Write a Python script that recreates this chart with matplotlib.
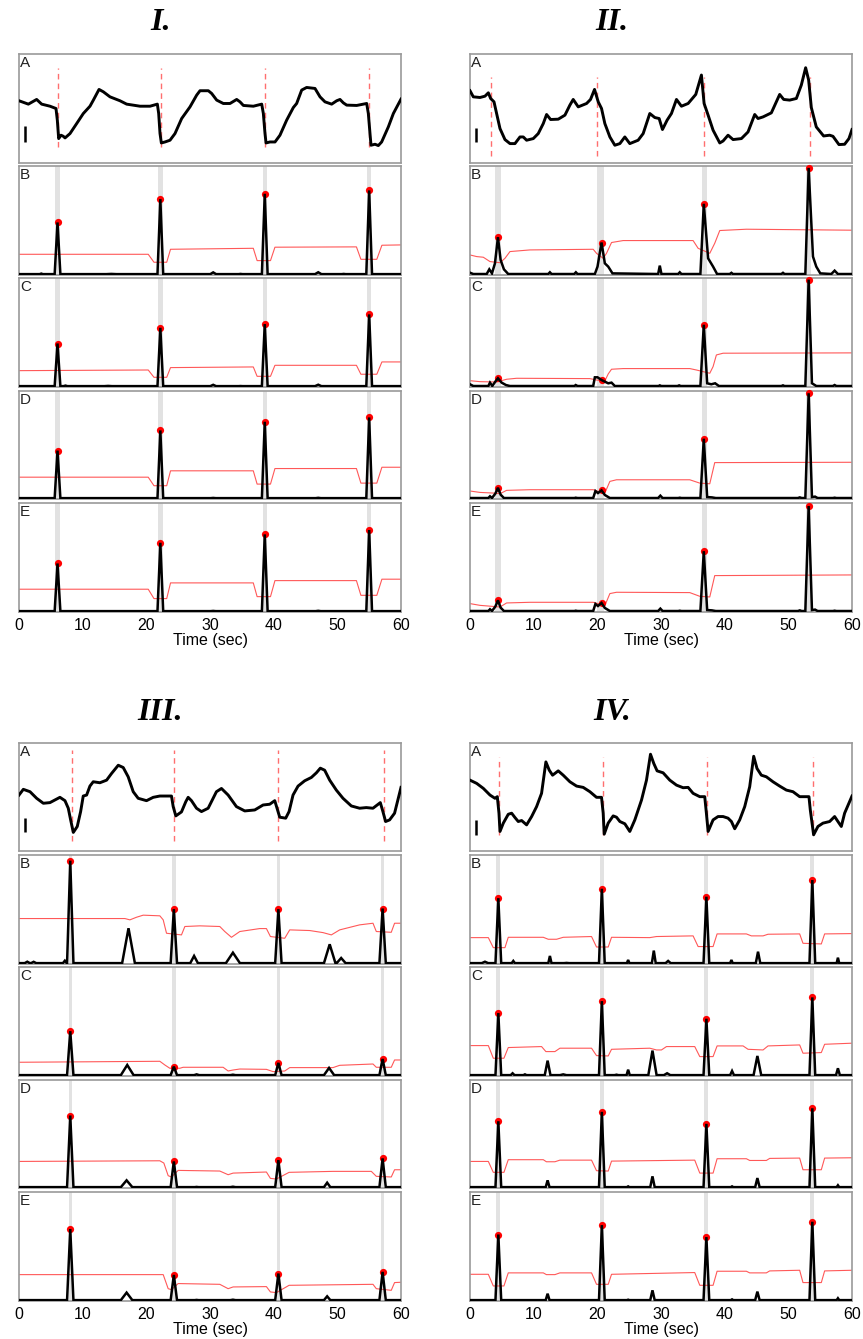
import matplotlib
matplotlib.use("Agg")
import matplotlib.pyplot as plt

plt.rcParams['font.family'] = ['Liberation Sans', 'DejaVu Sans']

# ---------------------------------------------------------------- data
# x values are seconds (0-60), y values are % of each strip's height
panel_titles = ["I.", "II.", "III.", "IV."]
row_letters = ["A", "B", "C", "D", "E"]
x_ticks = [0, 10, 20, 30, 40, 50, 60]
x_label = "Time (sec)"

# ---- panel I
p1_A = [(0,57.1),(1.47,54.0),(2.77,58.3),(3.56,54.0),(4.87,52.1),(5.81,50.0),(6.02,39.3),(6.23,22.4),
        (6.60,25.5),(6.96,24.5),(7.23,23.0),(8.01,27.0),(9.06,36.2),(10.10,45.4),(11.15,52.1),(11.68,57.7),
        (12.57,67.5),(13.25,65.3),(14.29,60.7),(15.86,57.1),(16.91,54.0),(19.01,52.1),(20.58,52.1),(21.73,54.0),
        (21.94,45.4),(22.15,27.0),(22.36,18.4),(22.93,19.3),(23.72,20.9),(24.50,27.0),(25.55,40.8),(26.86,51.5),
        (27.91,62.3),(28.43,66.3),(29.74,66.3),(30.26,63.8),(31.05,57.7),(32.09,54.6),(33.14,54.6),(34.19,58.3),
        (34.71,56.1),(35.24,52.8),(36.81,52.1),(38.12,54.0),(38.38,45.4),(38.64,27.0),(38.80,18.4),(39.42,19.3),
        (40.21,19.3),(40.99,25.5),(42.04,39.3),(43.09,50.9),(43.61,54.6),(44.40,66.9),(45.18,69.3),(46.49,68.4),
        (47.28,60.7),(48.06,56.1),(49.11,54.0),(49.90,57.1),(50.42,58.3),(50.94,55.2),(51.47,53.1),(53.04,52.8),
        (54.61,54.6),(54.87,45.4),(55.13,27.0),(55.29,16.3),(55.92,17.2),(56.44,16.0),(56.96,19.3),(58.01,33.1),
        (58.80,45.4),(59.58,54.0),(60.0,58.6)]
p1_marks = [6.18, 22.25, 38.7, 55.0]
p1_mark_span = (14.7, 86.8)
p1_bar = (0.94, 19.7, 33.6)
p1_peak_t = [6.05, 22.2, 38.6, 55.0]
p1_bands = [(5.7, 6.4), (21.85, 22.55), (38.25, 38.95), (54.65, 55.35)]
p1_B_peaks = [48.2, 69.6, 74.5, 77.6]
p1_C_peaks = [39.9, 54.3, 57.7, 66.6]
p1_D_peaks = [44.8, 63.5, 71.5, 75.5]
p1_E_peaks = [44.5, 63.5, 71.2, 75.2]
p1_B_bumps = [(3.5, 1.3, 0.25), (14.5, 1.0, 0.8), (30.5, 2.4, 0.45), (34.8, 1.0, 0.3), (47.0, 2.5, 0.5), (51.0, 1.0, 0.3)]
p1_C_bumps = [(7.3, 1.3, 0.3), (14.0, 1.0, 0.6), (30.5, 2.0, 0.45), (34.8, 0.9, 0.3), (47.0, 2.1, 0.5)]
p1_D_bumps = [(30.5, 1.0, 0.4), (47.0, 1.1, 0.4)]
p1_E_bumps = [(30.5, 1.0, 0.4), (47.0, 1.1, 0.4)]
p1_B_red = [(0,19.0),(20.3,19.0),(21.2,11.7),(23.2,11.7),(23.8,23.6),(36.8,24.5),(37.4,13.2),(39.5,13.2),
            (40.2,25.5),(53.0,25.8),(53.7,14.4),(56.2,14.4),(57.0,27.3),(60,27.6)]
p1_C_red = [(0,15.0),(20.3,15.6),(21.2,8.9),(23.2,8.9),(23.8,17.8),(36.8,18.4),(37.4,9.8),(39.5,9.8),
            (40.2,19.9),(53.0,19.9),(53.7,11.7),(56.2,11.7),(57.0,23.0),(60,23.0)]
p1_D_red = [(0,20.2),(20.3,20.2),(21.2,12.3),(23.2,12.3),(23.8,26.1),(36.8,26.1),(37.4,13.8),(39.5,13.8),
            (40.2,28.2),(53.0,28.2),(53.7,14.7),(56.2,14.7),(57.0,29.4),(60,29.4)]
p1_E_red = [(0,20.9),(20.3,20.9),(21.2,12.3),(23.2,12.3),(23.8,26.7),(36.8,26.7),(37.4,14.1),(39.5,14.1),
            (40.2,28.8),(53.0,28.8),(53.7,15.3),(56.2,15.3),(57.0,30.1),(60,30.1)]

# ---- panel II
p2_A = [(0,66.3),(0.52,60.7),(1.57,60.1),(2.35,61.3),(2.88,64.4),(3.24,59.2),(3.77,56.1),(4.18,45.4),(4.71,31.6),
        (5.49,21.5),(6.28,17.8),(7.06,17.8),(7.85,23.9),(8.37,23.9),(8.89,20.9),(9.94,22.4),(10.72,27.0),(11.51,36.2),
        (12.03,44.5),(12.66,39.9),(13.86,40.2),(14.91,43.9),(15.69,53.1),(16.21,58.3),(17.0,51.5),(18.31,54.6),
        (18.93,58.3),(19.56,67.5),(20.14,56.1),(20.66,50.0),(21.18,36.2),(21.97,23.9),(22.75,16.3),(23.54,17.8),
        (24.32,23.9),(25.10,17.8),(26.41,20.9),(27.20,27.0),(28.24,45.4),(29.03,41.7),(29.71,40.8),(30.23,30.7),
        (30.96,39.3),(31.64,45.4),(32.43,58.3),(33.21,52.1),(34.26,54.6),(35.46,62.9),(36.35,80.7),(36.77,54.6),
        (37.40,43.9),(38.18,30.1),(39.23,18.4),(39.75,20.2),(40.53,25.5),(41.32,21.5),(42.63,22.4),(43.67,28.5),
        (44.72,44.5),(45.24,40.8),(46.03,42.3),(47.33,46.0),(48.64,62.9),(49.27,58.3),(50.21,57.7),(51.26,59.2),
        (52.04,71.5),(52.72,87.4),(53.19,76.1),(53.61,50.9),(54.39,33.1),(55.54,24.8),(56.49,25.5),(57.01,24.5),
        (57.95,16.9),(58.84,17.2),(59.52,22.4),(60,30.7)]
p2_marks = [3.35, 19.87, 36.77, 53.35]
p2_mark_span = (6.1, 79.1)
p2_bar = (0.94, 19.3, 32.5)
p2_peak_t = [4.39, 20.66, 36.72, 53.19]
p2_bands = [(3.95, 4.85), (19.9, 21.1), (36.45, 37.3), (52.8, 53.6)]
p2_B_peaks = [34.7, 29.8, 65.3, 98.2]
p2_C_peaks = [8.0, 6.4, 57.1, 98.5]
p2_D_peaks = [10.4, 8.0, 55.8, 97.9]
p2_E_peaks = [10.7, 8.3, 55.8, 97.2]
p2_B_line = [(0,2.1),(0.52,0.9),(2.62,0.9),(3.03,5.2),(3.45,1.5),(3.92,10.7),(4.39,34.7),(4.81,13.8),(5.33,5.2),
             (6.01,0.9),(12.29,0.9),(12.55,2.5),(12.81,0.9),(16.37,0.9),(16.63,2.5),(16.89,0.9),(19.61,0.9),
             (20.03,7.7),(20.66,29.8),(21.18,10.7),(21.71,7.7),(22.38,1.5),(29.55,0.9),(29.81,8.6),(30.07,0.9),
             (32.69,0.9),(32.95,2.5),(33.21,0.9),(36.19,0.9),(36.72,65.3),(37.40,15.3),(38.18,7.7),(38.81,0.9),
             (40.8,0.9),(41.06,2.0),(41.3,0.9),(48.9,0.9),(49.16,2.0),(49.4,0.9),(52.67,0.9),(53.19,98.2),
             (53.87,16.9),(54.39,7.7),(55.02,1.5),(56.75,0.9),(57.27,4.0),(57.79,0.9),(60,0.9)]
p2_C_line = [(0,2.5),(0.52,0.9),(2.88,0.9),(3.14,4.0),(3.5,0.9),(3.97,4.9),(4.39,8.0),(4.97,4.0),(5.65,1.8),
             (6.28,0.9),(16.4,0.9),(16.6,1.8),(16.9,0.9),(19.35,0.9),(19.61,8.9),(20.03,8.9),(20.66,6.4),
             (21.18,4.9),(21.71,3.4),(22.23,4.0),(22.75,0.9),(29.6,0.9),(29.81,1.5),(30.05,0.9),(32.6,0.9),
             (32.85,1.5),(33.1,0.9),(36.19,0.9),(36.72,57.1),(37.25,3.4),(37.9,2.5),(38.5,3.4),(39.1,0.9),
             (48.9,0.9),(49.16,1.5),(49.4,0.9),(52.67,0.9),(53.19,98.5),(53.71,3.4),(54.4,0.9),(57.0,0.9),
             (57.27,1.8),(57.55,0.9),(60,0.9)]
p2_D_line = [(0,0.9),(2.88,0.9),(3.14,2.5),(3.45,0.9),(3.97,4.9),(4.39,10.4),(4.81,4.0),(5.33,0.9),(16.4,0.9),
             (16.6,1.2),(16.9,0.9),(19.35,0.9),(19.7,7.4),(20.1,5.5),(20.66,8.0),(21.18,3.7),(21.97,0.9),
             (29.55,0.9),(29.9,3.1),(30.25,0.9),(32.7,0.9),(32.95,1.2),(33.2,0.9),(36.19,0.9),(36.72,55.8),
             (37.25,1.8),(38.0,1.5),(38.6,0.9),(51.5,0.9),(51.8,1.5),(52.1,0.9),(52.67,0.9),(53.19,97.9),
             (53.71,1.8),(54.2,2.2),(54.6,0.9),(57.0,0.9),(57.27,1.2),(57.55,0.9),(60,0.9)]
p2_E_line = [(0,0.9),(2.88,0.9),(3.14,2.5),(3.45,0.9),(3.97,4.9),(4.39,10.7),(4.81,4.0),(5.33,0.9),(16.4,0.9),
             (16.6,1.2),(16.9,0.9),(19.35,0.9),(19.7,7.4),(20.1,5.5),(20.66,8.3),(21.18,3.7),(21.97,0.9),
             (29.55,0.9),(29.9,3.1),(30.25,0.9),(32.7,0.9),(32.95,1.2),(33.2,0.9),(36.19,0.9),(36.72,55.8),
             (37.25,1.8),(38.0,1.5),(38.6,0.9),(51.5,0.9),(51.8,1.5),(52.1,0.9),(52.67,0.9),(53.19,97.2),
             (53.71,1.8),(54.2,2.2),(54.6,0.9),(57.0,0.9),(57.27,1.2),(57.55,0.9),(60,0.9)]
p2_B_red = [(0,18.4),(1.05,16.9),(2.09,16.3),(3.14,12.3),(4.71,11.3),(5.49,15.3),(6.28,21.5),(9.41,23.0),
            (19.35,23.6),(19.87,19.9),(20.92,15.3),(21.44,19.9),(22.23,29.8),(24.06,31.6),(35.04,31.6),
            (35.83,24.5),(37.66,19.9),(38.44,29.1),(39.23,40.8),(43.41,42.0),(60,41.1)]
p2_C_red = [(0,5.8),(1.57,4.9),(4.18,4.6),(5.75,7.1),(7.32,8.0),(18.83,7.7),(19.87,6.4),(21.18,5.5),
            (21.71,12.0),(22.23,16.3),(24.06,16.9),(34.52,16.9),(35.56,15.6),(37.66,12.6),(38.18,18.7),
            (38.70,29.4),(39.75,31.0),(60,31.3)]
p2_D_red = [(0,7.4),(1.57,6.1),(3.66,5.5),(4.71,4.9),(5.75,8.0),(9.41,8.6),(19.35,8.6),(20.14,7.1),
            (21.18,5.5),(21.97,16.3),(23.01,17.8),(34.52,17.8),(36.09,14.7),(37.66,14.1),(38.44,33.7),(60,34.0)]
p2_E_red = [(0,7.7),(1.57,6.1),(4.71,4.6),(5.75,8.3),(9.41,8.9),(19.35,8.9),(20.14,7.7),(21.18,5.8),
            (21.97,16.9),(23.01,18.1),(34.52,17.8),(36.09,14.4),(37.66,13.8),(38.44,33.4),(60,34.0)]

# ---- panel III
p3_A = [(0,51.8),(0.68,57.1),(1.73,54.9),(2.77,48.8),(3.82,44.2),(4.86,44.8),(6.43,49.7),(7.22,46.6),(7.74,39.6),
        (8.11,28.8),(8.53,17.2),(9.15,22.7),(9.68,36.5),(10.09,50.9),(10.62,51.8),(11.14,60.1),(11.66,64.1),
        (12.71,63.2),(13.76,65.6),(14.54,71.8),(15.59,79.4),(16.37,77.3),(17.15,68.7),(17.94,54.9),(18.72,48.8),
        (20.03,46.6),(21.08,49.7),(22.12,50.9),(23.95,50.9),(24.22,41.1),(24.63,32.5),(25.52,36.2),(26.20,45.7),
        (26.57,49.7),(27.09,46.6),(27.88,39.6),(28.66,36.5),(29.71,39.6),(31.01,54.9),(31.80,57.9),(32.85,51.8),
        (34.15,41.1),(35.46,37.1),(37.03,38.0),(38.34,42.6),(39.38,43.3),(40.17,46.6),(40.53,39.6),(40.95,31.3),
        (41.89,30.4),(42.42,36.5),(43.04,51.8),(43.83,60.1),(44.87,65.0),(45.92,68.1),(46.71,72.4),(47.33,76.7),
        (48.01,74.8),(48.80,65.6),(49.84,56.4),(50.89,48.8),(52.20,41.7),(53.50,39.6),(54.55,40.2),(55.60,39.6),
        (56.75,44.8),(57.16,36.5),(57.58,27.3),(58.21,28.8),(58.99,35.0),(60,58.9)]
p3_marks = [8.32, 24.37, 40.74, 57.32]
p3_mark_span = (8.9, 93.3)
p3_bar = (0.94, 17.2, 30.8)
p3_peak_t = [8.05, 24.32, 40.74, 57.11]
p3_bands = [(7.78, 8.32), (24.05, 24.6), (40.47, 41.0), (56.84, 57.38)]
p3_B_peaks = [94.8, 50.3, 50.3, 50.9]
p3_C_peaks = [41.1, 8.6, 12.0, 15.6]
p3_D_peaks = [67.1, 24.6, 25.8, 27.4]
p3_E_peaks = [66.0, 23.9, 25.2, 26.7]
p3_B_bumps = [(1.3, 2.1, 0.4), (2.3, 2.0, 0.4), (7.2, 3.0, 0.3), (17.2, 32.8, 1.0), (27.5, 7.4, 0.6),
              (33.6, 10.4, 1.1), (48.8, 18.1, 0.9), (50.6, 5.5, 0.7)]
p3_C_bumps = [(17.0, 10.1, 1.0), (27.9, 1.5, 0.4), (33.6, 1.2, 0.4), (48.7, 7.4, 0.8)]
p3_D_bumps = [(16.9, 7.1, 0.9), (27.9, 1.0, 0.3), (33.6, 1.2, 0.4), (48.4, 4.9, 0.5)]
p3_E_bumps = [(16.9, 7.7, 0.9), (27.9, 1.0, 0.3), (33.6, 1.2, 0.4), (48.4, 4.3, 0.5)]
p3_B_red = [(0,41.7),(16.63,41.7),(17.42,40.5),(18.46,42.9),(19.51,44.8),(22.12,44.2),(22.65,40.5),(23.17,28.2),
            (25.52,26.7),(26.05,34.4),(28.40,35.0),(31.54,34.4),(32.32,29.8),(33.37,24.5),(34.68,29.8),
            (37.81,32.5),(38.86,32.5),(39.49,25.2),(41.74,23.6),(42.52,31.3),(45.66,30.7),(47.75,28.8),
            (49.06,26.7),(50.37,31.3),(53.50,35.9),(55.60,37.4),(56.12,29.8),(58.47,29.1),(58.99,37.4),(60,37.4)]
p3_C_red = [(0,12.6),(22.12,13.5),(22.91,10.1),(23.69,7.1),(25.26,7.1),(25.78,8.0),(32.06,8.0),(32.85,4.6),
            (33.63,5.5),(34.68,6.4),(38.86,6.1),(39.91,4.0),(41.74,4.6),(42.52,7.7),(49.32,7.7),(50.37,9.8),
            (55.60,11.0),(56.12,8.0),(58.47,8.0),(58.99,14.7),(60,14.7)]
p3_D_red = [(0,24.6),(22.12,25.2),(22.75,23.1),(23.43,11.4),(23.95,10.2),(25.0,16.3),(31.54,15.7),(32.85,12.3),
            (33.63,13.8),(38.86,14.8),(39.49,8.9),(40.43,8.3),(42.42,14.5),(49.32,15.4),(55.34,15.4),
            (56.12,10.8),(58.47,10.2),(58.99,16.9),(60,16.9)]
p3_E_red = [(0,24.2),(22.65,24.2),(23.43,11.3),(23.95,10.4),(25.0,16.0),(31.54,15.3),(32.85,11.3),(33.63,12.9),
            (38.86,13.2),(39.49,8.3),(40.43,7.7),(42.42,14.4),(55.60,15.3),(56.12,11.3),(58.47,9.8),
            (58.99,16.9),(60,17.2)]

# ---- panel IV
p4_A = [(0,65.6),(1.05,62.6),(2.09,58.0),(3.14,51.8),(3.92,48.8),(4.29,50.3),(4.55,35.0),(4.71,18.1),(5.23,25.8),
        (6.01,34.0),(6.54,35.0),(7.06,31.0),(7.58,27.3),(8.11,28.2),(8.89,24.2),(9.68,31.9),(10.46,41.1),
        (11.24,53.4),(11.92,82.5),(12.45,74.8),(12.97,70.2),(13.86,74.2),(14.64,70.2),(15.69,64.1),(16.74,60.1),
        (17.78,58.9),(18.83,54.9),(19.87,49.7),(20.66,49.7),(20.92,35.0),(21.08,15.6),(21.70,25.8),(22.49,32.5),
        (23.01,31.3),(23.54,27.3),(24.32,25.2),(25.10,18.1),(25.89,28.8),(26.94,47.2),(27.72,65.6),(28.35,89.6),
        (28.87,81.0),(29.39,74.2),(30.33,72.4),(31.38,65.6),(32.43,61.0),(33.47,58.6),(34.26,58.9),(35.04,53.4),
        (36.09,50.3),(36.87,50.3),(37.13,35.0),(37.40,18.1),(38.18,28.8),(38.96,31.9),(39.75,31.9),(40.53,30.4),
        (41.06,27.3),(41.58,20.6),(42.36,28.8),(43.15,41.1),(43.93,59.5),(44.56,87.7),(45.08,76.4),(45.76,70.2),
        (46.55,68.7),(47.59,64.1),(48.64,60.1),(49.69,56.4),(50.73,54.9),(51.78,50.3),(53.24,50.3),(53.45,38.0),
        (53.97,15.0),(54.65,22.7),(55.44,25.8),(56.49,27.3),(57.27,31.9),(57.79,27.3),(58.32,22.7),(58.84,35.0),
        (60,50.9)]
p4_marks = [4.50, 20.87, 37.19, 53.87]
p4_mark_span = (15.0, 87.1)
p4_bar = (0.94, 15.0, 28.6)
p4_peak_t = [4.45, 20.71, 37.13, 53.77]
p4_bands = [(4.12, 4.78), (20.38, 21.04), (36.8, 37.46), (53.44, 54.1)]
p4_B_peaks = [60.4, 69.0, 61.7, 77.0]
p4_C_peaks = [57.7, 68.7, 52.5, 72.1]
p4_D_peaks = [61.8, 70.5, 59.4, 73.8]
p4_E_peaks = [61.0, 69.6, 58.6, 72.7]
p4_B_bumps = [(2.35, 2.1, 0.5), (6.8, 2.8, 0.25), (12.55, 7.4, 0.25), (15.17, 1.0, 0.4), (24.84, 3.7, 0.2),
              (28.87, 12.3, 0.3), (31.12, 2.8, 0.4), (41.06, 3.7, 0.2), (45.24, 11.3, 0.35), (57.79, 5.8, 0.2)]
p4_C_bumps = [(6.69, 2.5, 0.3), (8.63, 1.5, 0.25), (12.19, 14.1, 0.45), (14.64, 1.5, 0.5), (23.01, 1.2, 0.3),
              (24.84, 5.8, 0.25), (28.66, 23.3, 0.65), (30.96, 2.5, 0.5), (41.16, 4.6, 0.3), (45.14, 18.4, 0.6),
              (57.79, 7.1, 0.3)]
p4_D_bumps = [(12.19, 7.1, 0.3), (24.84, 1.5, 0.2), (28.66, 10.8, 0.35), (41.16, 1.5, 0.2), (45.14, 9.2, 0.35),
              (57.79, 2.5, 0.2)]
p4_E_bumps = [(12.19, 6.7, 0.3), (24.84, 1.2, 0.2), (28.66, 9.8, 0.35), (41.16, 1.5, 0.2), (45.14, 8.6, 0.35),
              (57.79, 2.5, 0.2)]
p4_B_red = [(0,24.2),(2.88,24.2),(3.66,15.0),(5.49,15.0),(6.01,24.5),(11.51,24.5),(12.29,22.7),(13.6,22.7),
            (14.64,24.5),(19.09,25.2),(19.87,15.6),(21.71,15.6),(22.23,24.5),(28.24,24.2),(29.29,25.2),
            (35.04,25.8),(35.83,16.0),(38.18,16.0),(38.81,27.6),(43.41,27.6),(44.19,25.8),(46.03,25.8),
            (46.81,27.3),(51.78,27.6),(52.30,19.0),(55.18,18.4),(55.70,27.6),(60,27.9)]
p4_C_red = [(0,27.9),(2.88,27.9),(3.66,16.3),(5.33,16.3),(6.01,26.1),(11.24,27.0),(11.92,22.4),(13.34,22.4),
            (14.12,25.5),(19.09,25.5),(19.87,18.7),(21.71,18.4),(22.23,24.5),(28.24,25.5),(29.29,23.9),
            (30.07,23.9),(30.86,27.0),(35.30,27.0),(36.09,17.8),(38.18,17.8),(38.81,27.6),(42.89,27.6),
            (43.67,24.5),(46.03,23.9),(46.81,27.6),(51.78,28.5),(52.30,20.9),(55.18,21.5),(55.70,29.1),(60,30.1)]
p4_D_red = [(0,24.6),(2.88,24.6),(3.66,14.5),(5.33,14.5),(6.01,26.2),(11.51,26.2),(12.0,24.3),(13.34,24.3),
            (14.12,25.8),(19.09,25.8),(19.87,16.0),(21.71,15.7),(22.23,24.9),(35.30,25.8),(36.09,13.8),
            (38.18,13.8),(38.81,27.1),(43.41,27.1),(43.93,25.5),(46.55,25.5),(47.07,27.4),(51.78,27.7),
            (52.30,16.9),(55.18,16.9),(55.70,27.7),(60,28.0)]
p4_E_red = [(0,24.5),(2.88,24.5),(3.66,13.8),(5.33,13.8),(6.01,25.8),(11.51,25.8),(12.0,24.2),(13.34,24.2),
            (14.12,25.8),(19.09,25.8),(19.87,15.3),(21.71,15.3),(22.23,24.5),(35.30,26.1),(36.09,14.4),
            (38.18,14.4),(38.81,27.3),(43.41,27.3),(43.93,25.8),(46.55,25.8),(47.07,27.6),(51.78,28.2),
            (52.30,16.9),(55.18,16.9),(55.70,27.6),(60,28.2)]

# ---------------------------------------------------------------- style / layout (pixels)
W, H = 863, 1339
COL_X = [19, 470]
COL_W = 382
ROWS = [[(54, 163), (166, 275), (278, 387), (391, 499), (503, 612)],
        [(743, 851), (855, 964), (967, 1076), (1080, 1188), (1192, 1301)]]
TITLE_POS = [(161, 22), (612, 22), (160, 712), (612, 712)]
SPINE = '#9a9a9a'
RED = '#ff3b3b'
BAND = '#e2e2e2'
BASE = 0.8


def unzip(pairs):
    return [p[0] for p in pairs], [p[1] for p in pairs]


def spike_trace(peak_t, peak_h, hw, bumps):
    ev = [(t, h, hw) for t, h in zip(peak_t, peak_h)] + list(bumps)
    ev.sort()
    xs, ys = [0.0], [BASE]
    for t, h, w in ev:
        xs += [t - w, t, t + w]
        ys += [BASE, h, BASE]
    xs.append(60.0)
    ys.append(BASE)
    return xs, ys


panels = [
    dict(A=p1_A, marks=p1_marks, span=p1_mark_span, bar=p1_bar, pt=p1_peak_t, bands=p1_bands,
         peaks=[p1_B_peaks, p1_C_peaks, p1_D_peaks, p1_E_peaks],
         lines=[spike_trace(p1_peak_t, p, 0.45, b) for p, b in
                zip([p1_B_peaks, p1_C_peaks, p1_D_peaks, p1_E_peaks], [p1_B_bumps, p1_C_bumps, p1_D_bumps, p1_E_bumps])],
         reds=[p1_B_red, p1_C_red, p1_D_red, p1_E_red]),
    dict(A=p2_A, marks=p2_marks, span=p2_mark_span, bar=p2_bar, pt=p2_peak_t, bands=p2_bands,
         peaks=[p2_B_peaks, p2_C_peaks, p2_D_peaks, p2_E_peaks],
         lines=[unzip(l) for l in [p2_B_line, p2_C_line, p2_D_line, p2_E_line]],
         reds=[p2_B_red, p2_C_red, p2_D_red, p2_E_red]),
    dict(A=p3_A, marks=p3_marks, span=p3_mark_span, bar=p3_bar, pt=p3_peak_t, bands=p3_bands,
         peaks=[p3_B_peaks, p3_C_peaks, p3_D_peaks, p3_E_peaks],
         lines=[spike_trace(p3_peak_t, p, 0.5, b) for p, b in
                zip([p3_B_peaks, p3_C_peaks, p3_D_peaks, p3_E_peaks], [p3_B_bumps, p3_C_bumps, p3_D_bumps, p3_E_bumps])],
         reds=[p3_B_red, p3_C_red, p3_D_red, p3_E_red]),
    dict(A=p4_A, marks=p4_marks, span=p4_mark_span, bar=p4_bar, pt=p4_peak_t, bands=p4_bands,
         peaks=[p4_B_peaks, p4_C_peaks, p4_D_peaks, p4_E_peaks],
         lines=[spike_trace(p4_peak_t, p, 0.45, b) for p, b in
                zip([p4_B_peaks, p4_C_peaks, p4_D_peaks, p4_E_peaks], [p4_B_bumps, p4_C_bumps, p4_D_bumps, p4_E_bumps])],
         reds=[p4_B_red, p4_C_red, p4_D_red, p4_E_red]),
]

fig = plt.figure(figsize=(W / 100, H / 100), dpi=100)

for pi, pan in enumerate(panels):
    col = pi % 2
    grp = pi // 2
    x0 = COL_X[col]
    for ri, (yt, yb) in enumerate(ROWS[grp]):
        ax = fig.add_axes([x0 / W, 1 - yb / H, COL_W / W, (yb - yt) / H])
        ax.set_xlim(0, 60)
        ax.set_ylim(0, 100)
        for s in ax.spines.values():
            s.set_color(SPINE)
            s.set_linewidth(1.2)
        ax.set_yticks([])
        ax.text(0.003, 0.985, row_letters[ri], transform=ax.transAxes, ha='left', va='top',
                fontsize=11, color='#222222')
        if ri == 0:
            tx, ty = unzip(pan['A'])
            for m in pan['marks']:
                ax.plot([m, m], list(pan['span']), color='#ff6f6f', lw=1.0, dashes=(4, 3), zorder=1)
            ax.plot(tx, ty, color='black', lw=2.1, zorder=3, solid_joinstyle='round')
            bx, b0, b1 = pan['bar']
            ax.plot([bx, bx], [b0, b1], color='black', lw=1.8, solid_capstyle='butt')
        else:
            k = ri - 1
            for a, b in pan['bands']:
                ax.axvspan(a, b, color=BAND, lw=0, zorder=0)
            rx, ry = unzip(pan['reds'][k])
            ax.plot(rx, ry, color=RED, lw=0.8, alpha=0.85, zorder=2)
            ax.plot(pan['pt'], pan['peaks'][k], 'o', color='red', ms=5.2, mew=0, zorder=3, clip_on=False)
            lx, ly = pan['lines'][k]
            ax.plot(lx, ly, color='black', lw=1.8, zorder=4, solid_joinstyle='miter')
        if ri == 4:
            ax.set_xticks(x_ticks)
            ax.tick_params(axis='x', length=0, labelsize=11.5, pad=4)
            ax.set_xlabel(x_label, fontsize=11.5, labelpad=0)
        else:
            ax.set_xticks([])
    tx_, ty_ = TITLE_POS[pi]
    fig.text(tx_ / W, 1 - ty_ / H, panel_titles[pi], ha='center', va='center',
             fontsize=23, fontweight='bold', fontstyle='italic', family=['Liberation Serif', 'DejaVu Serif'])

fig.savefig('out.png', dpi=100)
